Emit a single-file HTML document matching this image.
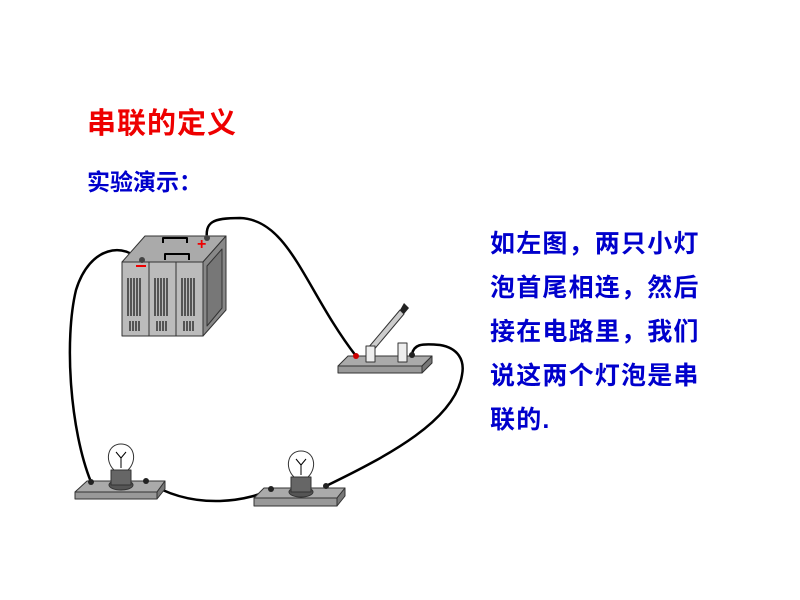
<!DOCTYPE html>
<html><head><meta charset="utf-8"><style>
body{margin:0;width:800px;height:600px;background:#fff;overflow:hidden;position:relative;font-family:"Liberation Sans","Noto Sans CJK SC",sans-serif}
.t{position:absolute;white-space:nowrap;font-weight:bold}
.r{color:#ee0000;font-size:29px;left:87px;top:100px;letter-spacing:1px}
.s{color:#0000cc;font-size:23px;left:87px;top:163px}
.b{color:#0000cc;font-size:25px;left:490px;letter-spacing:1.2px}
</style></head><body>
<div class="t r">串联的定义</div>
<div class="t s">实验演示：</div>
<div class="t b" style="top:224px">如左图，两只小灯</div>
<div class="t b" style="top:268px">泡首尾相连，然后</div>
<div class="t b" style="top:312px">接在电路里，我们</div>
<div class="t b" style="top:356px">说这两个灯泡是串</div>
<div class="t b" style="top:400px">联的.</div>
<svg width="800" height="600" style="position:absolute;left:0;top:0" stroke-linejoin="round">
<g fill="none" stroke="#000" stroke-width="2.5">
<path d="M141,262 C125,242 90,245 76,290 C64,340 70,430 91,482"/>
<path d="M207,240 C205,222 212,218 240,218 C290,220 305,290 356,356"/>
<path d="M412,354 C414,345 420,343 440,345 C458,348 465,360 462,375 C455,420 390,455 326,486"/>
<path d="M146,481 C160,490 185,502 220,501 C245,500 262,494 271,489"/>
</g>
<!-- battery -->
<g stroke="#333" stroke-width="1">
<polygon points="122,262 145,236 226,236 203,262" fill="#aaa"/>
<polygon points="203,262 226,236 226,310 203,336" fill="#888"/>
<polygon points="207,266 222,249 222,308 207,326" fill="#777"/>
<rect x="122" y="262" width="27" height="74" fill="#bbb"/>
<rect x="149" y="262" width="27" height="74" fill="#bbb"/>
<rect x="176" y="262" width="27" height="74" fill="#bbb"/>
</g>
<g stroke="#333" stroke-width="1.5">
<path d="M128,278 v38 M131,278 v38 M134,278 v38 M137,278 v38 M140,278 v38 M155,278 v38 M158,278 v38 M161,278 v38 M164,278 v38 M167,278 v38 M182,278 v38 M185,278 v38 M188,278 v38 M191,278 v38 M194,278 v38"/>
<path d="M130,321 v10 M133,321 v10 M136,321 v10 M139,321 v10 M157,321 v10 M160,321 v10 M163,321 v10 M166,321 v10 M184,321 v10 M187,321 v10 M190,321 v10 M193,321 v10"/>
</g>
<g fill="none" stroke="#000" stroke-width="2">
<path d="M163,243 v-5 h24 v5"/><path d="M165,260 v-6 h24 v6"/>
</g>
<rect x="136" y="265" width="10" height="2" fill="#e00"/>
<text x="197" y="249" fill="#e00" font-size="16" font-weight="bold">+</text>
<circle cx="142" cy="260" r="3" fill="#444"/><circle cx="207" cy="238" r="3" fill="#444"/>
<!-- switch -->
<g stroke="#333" stroke-width="1">
<polygon points="338,366 348,356 432,356 422,366" fill="#aaa"/>
<polygon points="338,366 422,366 422,373 338,373" fill="#999"/>
<polygon points="422,366 432,356 432,363 422,373" fill="#777"/>
<polygon points="368,348 400,310 404,314 372,352" fill="#ccc"/>
<rect x="366" y="346" width="9" height="16" fill="#eee"/>
<rect x="398" y="343" width="9" height="19" fill="#eee"/>
</g>
<polygon points="400,310 404,303 409,308 404,314" fill="#222"/>
<circle cx="356" cy="356" r="3" fill="#c00"/>
<!-- bulb boards -->
<g stroke="#333" stroke-width="1">
<polygon points="75,492 87,481 165,481 157,492" fill="#aaa"/>
<rect x="75" y="492" width="82" height="7" fill="#999"/>
<polygon points="157,492 165,481 165,489 157,499" fill="#777"/>
<polygon points="254,498 264,488 345,488 337,498" fill="#aaa"/>
<rect x="254" y="498" width="83" height="8" fill="#999"/>
<polygon points="337,498 345,488 345,496 337,506" fill="#777"/>
</g>
<g stroke="#333" stroke-width="1">
<ellipse cx="121" cy="485" rx="12" ry="5" fill="#555"/><rect x="111" y="470" width="20" height="15" fill="#666"/>
<path d="M114,470 C104,460 108,444 121,444 C134,444 138,460 128,470 Z" fill="#fff"/>
<ellipse cx="301" cy="492" rx="12" ry="5" fill="#555"/><rect x="291" y="477" width="20" height="15" fill="#666"/>
<path d="M294,477 C284,467 288,451 301,451 C314,451 318,467 308,477 Z" fill="#fff"/>
</g>
<g stroke="#000" stroke-width="1" fill="none"><path d="M116,452 l5,6 l5,-6 M121,458 v10"/><path d="M296,459 l5,6 l5,-6 M301,465 v10"/></g>
<g fill="#222"><circle cx="91" cy="482" r="3"/><circle cx="146" cy="481" r="3"/><circle cx="271" cy="489" r="3"/><circle cx="326" cy="486" r="3"/><circle cx="412" cy="355" r="3"/></g>
</svg>
</body></html>
